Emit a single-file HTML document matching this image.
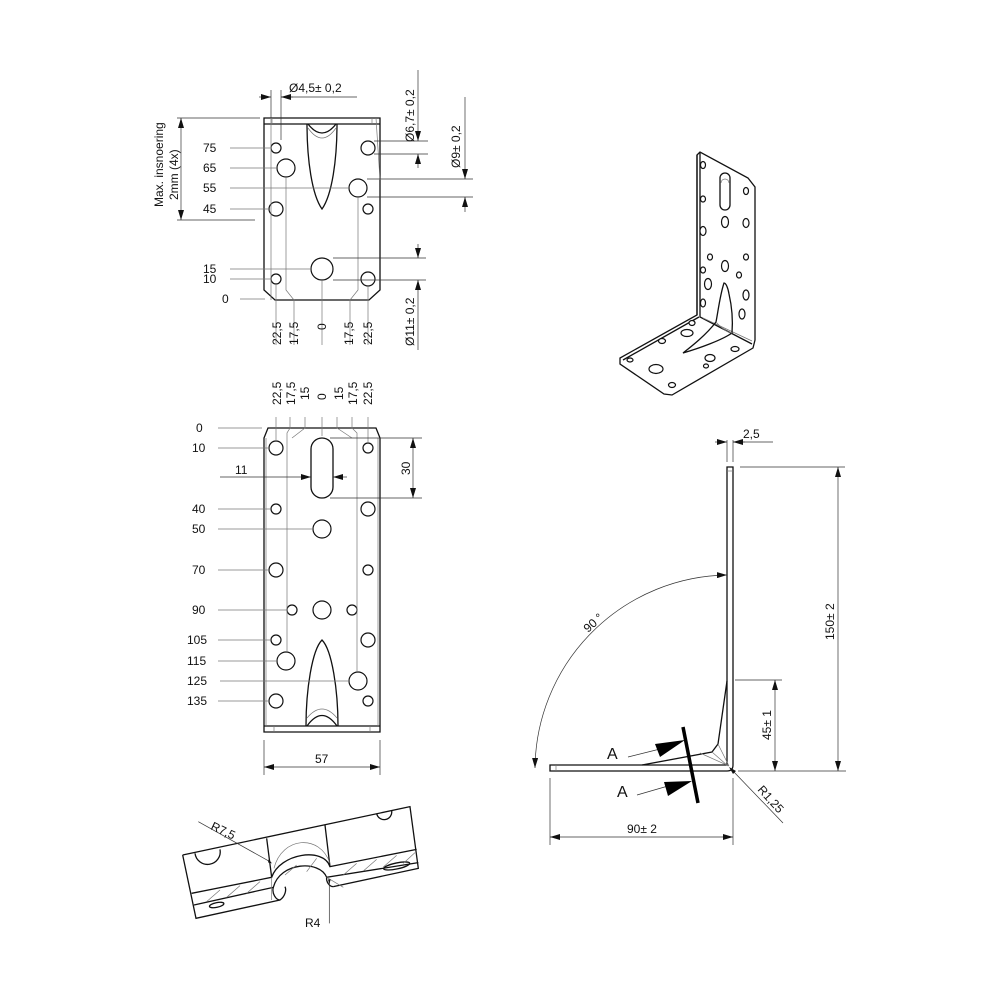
<!DOCTYPE html>
<html><head><meta charset="utf-8"><style>
html,body{margin:0;padding:0;background:#fff;}
svg{display:block}
text{font-family:"Liberation Sans",sans-serif;font-size:12px;fill:#111}
.o{fill:none;stroke:#111;stroke-width:1.3;vector-effect:non-scaling-stroke}
.h{fill:#fff;stroke:#111;stroke-width:1.2;vector-effect:non-scaling-stroke}
.t{fill:none;stroke:#777;stroke-width:0.7;vector-effect:non-scaling-stroke}
.d{fill:none;stroke:#333;stroke-width:0.7;vector-effect:non-scaling-stroke}
</style></head><body>
<svg width="1000" height="1000" viewBox="0 0 1000 1000" xmlns="http://www.w3.org/2000/svg">
<defs>
<marker id="a" viewBox="0 0 10 6" refX="10" refY="3" markerWidth="10" markerHeight="6" orient="auto-start-reverse" markerUnits="userSpaceOnUse"><path d="M0,0L10,3L0,6z" fill="#111"/></marker>
</defs>

<!-- ===== TOP PLAN ===== -->
<g>
<path class="o" d="M264,118H380V290L369,300H275L264,290Z"/>
<line class="o" x1="264" y1="124" x2="380" y2="124"/>
<line class="t" x1="272" y1="118" x2="272" y2="124"/><line class="t" x1="372" y1="118" x2="372" y2="124"/>
<path class="o" d="M307,124 C307,160 312,195 322,209 C332,195 337,160 337,124"/>
<path class="t" d="M308,128 Q322,148 336,128"/>
<path class="o" d="M308,124 Q322,142 336,124"/>
<circle class="h" cx="276" cy="148" r="5"/><circle class="h" cx="368" cy="148" r="7"/>
<circle class="h" cx="286" cy="168" r="9"/><circle class="h" cx="358" cy="188" r="9"/>
<circle class="h" cx="276" cy="209" r="7"/><circle class="h" cx="368" cy="209" r="5"/>
<circle class="h" cx="322" cy="269" r="11"/>
<circle class="h" cx="276" cy="279" r="5"/><circle class="h" cx="368" cy="279" r="7"/>
<path class="t" d="M271,118V300M286,177V290L294,300V345M358,197V290L350,300V345M276,284V345M368,286V345M322,280V345M376,118L380,180"/>
<path class="t" d="M230,148H270M230,168H277M230,188H349M230,209H269M230,269H311M230,279H271M240,299H265"/>
<text x="203" y="152">75</text><text x="203" y="172">65</text><text x="203" y="192">55</text><text x="203" y="213">45</text>
<text x="203" y="273">15</text><text x="203" y="283">10</text><text x="222" y="303">0</text>
<g transform="rotate(-90)">
<text x="-345" y="281">22,5</text><text x="-345" y="298">17,5</text><text x="-330" y="326">0</text><text x="-345" y="353">17,5</text><text x="-345" y="372">22,5</text>
</g>
<path class="d" d="M177,118H260M177,220H255"/>
<line class="d" x1="181" y1="118" x2="181" y2="220" marker-start="url(#a)" marker-end="url(#a)"/>
<g transform="rotate(-90)"><text x="-207" y="163">Max. insnoering</text><text x="-200" y="178">2mm (4x)</text></g>
<path class="d" d="M271,90V118M281,90V140M281,97H357"/>
<line class="d" x1="259" y1="97" x2="271" y2="97" marker-end="url(#a)"/>
<line class="d" x1="293" y1="97" x2="281" y2="97" marker-end="url(#a)"/>
<text x="289" y="92">Ø4,5± 0,2</text>
<path class="d" d="M374,141H428M374,154H428"/>
<line class="d" x1="418" y1="70" x2="418" y2="141" marker-end="url(#a)"/>
<line class="d" x1="418" y1="168" x2="418" y2="154" marker-end="url(#a)"/>
<path class="d" d="M367,179H473M367,197H473"/>
<line class="d" x1="465" y1="97" x2="465" y2="179" marker-end="url(#a)"/>
<line class="d" x1="465" y1="212" x2="465" y2="197" marker-end="url(#a)"/>
<path class="d" d="M333,258H426M333,280H426"/>
<line class="d" x1="418" y1="244" x2="418" y2="258" marker-end="url(#a)"/>
<line class="d" x1="418" y1="350" x2="418" y2="280" marker-end="url(#a)"/>
<g transform="rotate(-90)">
<text x="-142" y="414">Ø6,7± 0,2</text>
<text x="-168" y="460">Ø9± 0,2</text>
<text x="-346" y="414">Ø11± 0,2</text>
</g>
</g>

<!-- ===== BOTTOM PLAN ===== -->
<g>
<path class="o" d="M268,428H376L380,438V732H264V438Z"/>
<line class="o" x1="264" y1="726" x2="380" y2="726"/>
<line class="t" x1="274" y1="726" x2="274" y2="732"/><line class="t" x1="370" y1="726" x2="370" y2="732"/>
<path class="o" d="M311,449A11,11 0 0 1 333,449V487A11,11 0 0 1 311,487Z"/>
<circle class="h" cx="276" cy="448" r="7"/><circle class="h" cx="368" cy="448" r="5"/>
<circle class="h" cx="276" cy="509" r="5"/><circle class="h" cx="368" cy="509" r="7"/>
<circle class="h" cx="322" cy="529" r="9"/>
<circle class="h" cx="276" cy="570" r="7"/><circle class="h" cx="368" cy="570" r="5"/>
<circle class="h" cx="292" cy="610" r="5"/><circle class="h" cx="322" cy="610" r="9"/><circle class="h" cx="352" cy="610" r="5"/>
<circle class="h" cx="276" cy="640" r="5"/><circle class="h" cx="368" cy="640" r="7"/>
<circle class="h" cx="286" cy="661" r="9"/><circle class="h" cx="358" cy="681" r="9"/>
<circle class="h" cx="276" cy="701" r="7"/><circle class="h" cx="368" cy="701" r="5"/>
<path class="o" d="M306,726C306,690 312,650 322,640C332,650 338,690 338,726"/>
<path class="t" d="M307,718Q322,700 337,718"/>
<path class="o" d="M307,726Q322,705 337,726"/>
<path class="t" d="M276,417V441M290,417V428L287,433V652M305,417V428L292,438M322,417V436M337,417V428L352,438M352,417V428L357,433V672M368,417V443M266,438V726M378,438V726"/>
<g transform="rotate(-90)">
<text x="-405" y="281">22,5</text><text x="-405" y="295">17,5</text><text x="-400" y="309">15</text><text x="-400" y="326">0</text>
<text x="-400" y="343">15</text><text x="-405" y="357">17,5</text><text x="-405" y="372">22,5</text>
</g>
<path class="t" d="M218,428H262M218,448H269M218,509H271M218,529H313M218,570H269M218,610H287M218,640H271M218,661H277M220,681H349M218,701H269"/>
<text x="196" y="432">0</text><text x="192" y="452">10</text><text x="192" y="513">40</text><text x="192" y="533">50</text>
<text x="192" y="574">70</text><text x="192" y="614">90</text><text x="187" y="644">105</text><text x="187" y="665">115</text>
<text x="187" y="685">125</text><text x="187" y="705">135</text>
<line class="d" x1="220" y1="477" x2="311" y2="477" marker-end="url(#a)"/>
<line class="d" x1="347" y1="477" x2="333" y2="477" marker-end="url(#a)"/>
<text x="235" y="474">11</text>
<path class="d" d="M330,438H422M330,498H422"/>
<line class="d" x1="413" y1="438" x2="413" y2="498" marker-start="url(#a)" marker-end="url(#a)"/>
<g transform="rotate(-90)"><text x="-475" y="410">30</text></g>
<path class="d" d="M264,740V775M380,740V775"/>
<line class="d" x1="264" y1="767" x2="380" y2="767" marker-start="url(#a)" marker-end="url(#a)"/>
<text x="315" y="763">57</text>
</g>

<!-- ===== SIDE VIEW ===== -->
<g>
<path class="o" d="M727,467H733V765Q733,771 727,771H550V765H727Z"/>
<line class="t" x1="727" y1="471" x2="733" y2="471"/><line class="t" x1="556" y1="765" x2="556" y2="771"/>
<path class="o" d="M727,681L718,744L712,752L642,765"/>
<path class="t" d="M712,752L728,766M718,744L729,766M700,753L729,766"/>
<path class="d" d="M727,440V462M733,440V462M733,442H773"/>
<line class="d" x1="715" y1="442" x2="727" y2="442" marker-end="url(#a)"/>
<line class="d" x1="745" y1="442" x2="733" y2="442" marker-end="url(#a)"/>
<text x="743" y="438">2,5</text>
<path class="d" d="M740,467H845M738,771H846"/>
<line class="d" x1="838" y1="467" x2="838" y2="771" marker-start="url(#a)" marker-end="url(#a)"/>
<g transform="rotate(-90)"><text x="-640" y="834">150± 2</text></g>
<path class="d" d="M735,680H782"/>
<line class="d" x1="775" y1="680" x2="775" y2="771" marker-start="url(#a)" marker-end="url(#a)"/>
<g transform="rotate(-90)"><text x="-740" y="771">45± 1</text></g>
<path class="d" d="M727,575A195,195 0 0 0 535,768" marker-start="url(#a)" marker-end="url(#a)"/>
<text x="0" y="0" transform="translate(588,633) rotate(-42)">90 °</text>
<path class="d" d="M550,778V845M733,778V845"/>
<line class="d" x1="550" y1="837" x2="733" y2="837" marker-start="url(#a)" marker-end="url(#a)"/>
<text x="627" y="833">90± 2</text>
<path class="d" d="M733,771L783,823"/>
<path d="M729,767l7,4l-3,3z" fill="#111"/>
<text x="0" y="0" transform="translate(757,790) rotate(48)">R1,25</text>
<line x1="683" y1="727" x2="698" y2="803" stroke="#000" stroke-width="3.5"/>
<path class="d" d="M628,757L660,749M637,795L668,786"/>
<path d="M655,744L685,740L660,757Z" fill="#000"/>
<path d="M664,782L692,781L668,796Z" fill="#000"/>
<text x="607" y="759" style="font-size:16px">A</text>
<text x="617" y="797" style="font-size:16px">A</text>
</g>

<!-- ===== DETAIL (zoom coords) ===== -->
<g transform="translate(170,790) scale(0.3333)">
<path class="o" d="M38,195L720,50L745,235L490,290"/>
<path class="o" d="M38,195L78,385L330,330"/>
<path class="o" d="M65,310L305,262C330,190 460,170 480,230L740,178"/>
<path class="o" d="M72,345L310,292C330,215 450,210 470,262L745,218"/>
<path class="o" d="M470,262C468,275 478,290 490,290"/>
<path class="o" d="M310,292C305,310 318,330 330,330C345,320 350,300 345,290"/>
<path class="o" d="M290,145L305,262M465,105L480,230"/>
<path class="t" d="M305,262L305,330M470,262L520,292M312,235C335,140 450,130 480,220"/>
<path class="o" d="M75,190A38,38 0 1 0 150,178"/>
<path class="o" d="M620,70A22,22 0 1 0 665,62"/>
<ellipse class="o" cx="140" cy="345" rx="22" ry="7" transform="rotate(-12 140 345)"/>
<ellipse class="o" cx="680" cy="228" rx="40" ry="9" transform="rotate(-12 680 228)"/>
<path class="t" d="M110,335L150,300M170,322L210,287M230,310L270,275M520,255L560,220M580,243L620,208M640,231L680,196M700,220L735,188M345,255L380,225M410,245L440,205"/>
<path class="d" d="M85,95L300,215M478,270L478,400"/>
<path d="M296,208l10,12l-12,-3z M474,268l8,0l-4,15z" fill="#111"/>
</g>
<text x="0" y="0" transform="translate(210,829) rotate(25)">R7,5</text>
<text x="305" y="927">R4</text>

<!-- ===== ISOMETRIC ===== -->
<g>
<path class="o" d="M697,155L700,152L748,178L755,187V340L753,348L672,395L664,394L620,364V358L697,315Z"/>
<path class="o" d="M697,155V315M700,153V317L752,344M623,360L699,317"/>
<path class="t" d="M703,318L752,341"/>
<path class="o" d="M720,178A5,5 0 0 1 730,178V205A5,5 0 0 1 720,205Z"/>
<path class="t" d="M721,183A4,4 0 0 1 729,183"/>
<path class="o" d="M724,283C720,295 718,312 716,322C706,335 692,346 683,353C700,348 722,340 732,333C733,320 732,307 729,294C728,288 726,283 724,283Z"/>
<path class="t" d="M716,322Q725,332 732,333"/>
<ellipse class="h" cx="703" cy="165" rx="2.5" ry="3.5"/><ellipse class="h" cx="746" cy="191" rx="2.5" ry="3.5"/>
<ellipse class="h" cx="703" cy="199" rx="2.5" ry="3"/><ellipse class="h" cx="725" cy="222" rx="3.5" ry="5.5"/>
<ellipse class="h" cx="746" cy="223" rx="3" ry="4.5"/><ellipse class="h" cx="703" cy="231" rx="3" ry="4.5"/>
<ellipse class="h" cx="710" cy="257" rx="2.5" ry="3"/><ellipse class="h" cx="725" cy="266" rx="3.5" ry="5.5"/>
<ellipse class="h" cx="746" cy="257" rx="2.5" ry="3"/><ellipse class="h" cx="703" cy="270" rx="2.5" ry="3"/>
<ellipse class="h" cx="739" cy="275" rx="2.5" ry="3"/><ellipse class="h" cx="708" cy="284" rx="3.5" ry="5.5"/>
<ellipse class="h" cx="746" cy="295" rx="3" ry="5"/><ellipse class="h" cx="703" cy="303" rx="2.5" ry="4"/>
<ellipse class="h" cx="742" cy="314" rx="3" ry="5"/>
<ellipse class="h" cx="692" cy="323" rx="3" ry="2.5"/><ellipse class="h" cx="687" cy="333" rx="6" ry="3.5"/>
<ellipse class="h" cx="662" cy="341" rx="3.5" ry="2.5"/><ellipse class="h" cx="735" cy="349" rx="4" ry="2.5"/>
<ellipse class="h" cx="710" cy="358" rx="5" ry="3.5"/><ellipse class="h" cx="706" cy="366" rx="2.5" ry="2"/>
<ellipse class="h" cx="630" cy="360" rx="3" ry="2"/><ellipse class="h" cx="656" cy="369" rx="7" ry="4.5"/>
<ellipse class="h" cx="672" cy="385" rx="3.5" ry="2.5"/>
</g>
</svg>
</body></html>
